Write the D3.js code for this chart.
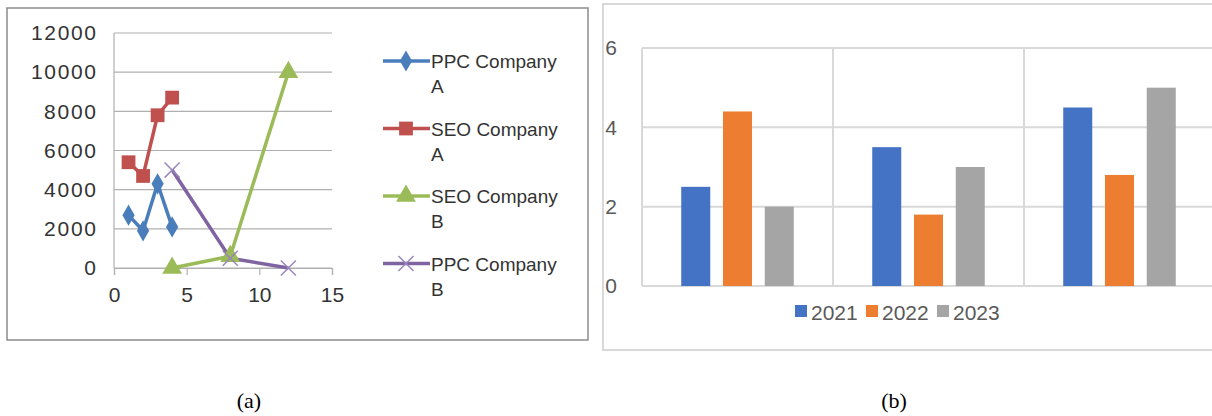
<!DOCTYPE html>
<html>
<head>
    <meta charset="utf-8">
    <style>
        body { margin: 0; background: #fff; }
        text { font-family: "Liberation Sans", Arial, sans-serif; }
        .grid line { stroke: #b0b0b0; stroke-width: 1.2px; }
        .gridb line { stroke: #d9d9d9; stroke-width: 2px; }
        .lineA { fill: none; stroke-width: 3.5px; stroke-linejoin: round; }
    </style>
    <script src="https://d3js.org/d3.v7.min.js"></script>
</head>
<body>
    <div id="chart"></div>
    <script>
        // panel (a) data
        var seriesNames = ["PPC Company A", "SEO Company A", "SEO Company B", "PPC Company B"];
        var ppcA = [{ x: 1, y: 2700 }, { x: 2, y: 1900 }, { x: 3, y: 4300 }, { x: 4, y: 2100 }];
        var seoA = [{ x: 1, y: 5400 }, { x: 2, y: 4700 }, { x: 3, y: 7800 }, { x: 4, y: 8700 }];
        var seoB = [{ x: 4, y: 0 }, { x: 8, y: 600 }, { x: 12, y: 10000 }];
        var ppcB = [{ x: 4, y: 5000 }, { x: 8, y: 500 }, { x: 12, y: 0 }];
        var xTicksA = [0, 5, 10, 15];
        var yTicksA = [0, 2000, 4000, 6000, 8000, 10000, 12000];

        // panel (b) data
        var groups = ["g1", "g2", "g3"];
        var years = ["2021", "2022", "2023"];
        var v2021 = [2.5, 3.5, 4.5];
        var v2022 = [4.4, 1.8, 2.8];
        var v2023 = [2, 3, 5];
        var yTicksB = [0, 2, 4, 6];

        var svg = d3.select("#chart").append("svg")
            .attr("width", 1212)
            .attr("height", 416);

        // ---------- panel (a) ----------
        svg.append("rect")
            .attr("x", 7).attr("y", 8)
            .attr("width", 581).attr("height", 332)
            .attr("fill", "#fff")
            .attr("stroke", "#8c8c8c")
            .attr("stroke-width", 1.5);

        var xa = d3.scaleLinear().domain([0, 15]).range([114, 332]);
        var ya = d3.scaleLinear().domain([0, 12000]).range([268, 33]);

        var ga = svg.append("g");

        ga.append("g")
            .attr("class", "grid")
            .selectAll("line")
            .data(yTicksA)
            .enter().append("line")
            .attr("x1", xa(0)).attr("x2", xa(15))
            .attr("y1", function(d) { return ya(d); })
            .attr("y2", function(d) { return ya(d); });

        ga.append("line")
            .attr("x1", xa(0)).attr("x2", xa(0))
            .attr("y1", ya(12000)).attr("y2", ya(0))
            .attr("stroke", "#b0b0b0").attr("stroke-width", 1.2);

        var xAxisA = d3.axisBottom(xa).tickValues(xTicksA).tickFormat(d3.format("d")).tickSize(7).tickPadding(12);
        var gx = ga.append("g")
            .attr("transform", "translate(0," + ya(0) + ")")
            .call(xAxisA);
        gx.select(".domain").attr("stroke", "#b0b0b0").attr("stroke-width", 1.2);
        gx.selectAll(".tick line").attr("stroke", "#b0b0b0").attr("stroke-width", 1.2);
        gx.selectAll("text").attr("font-size", 21).attr("fill", "#333");

        var yAxisA = d3.axisLeft(ya).tickValues(yTicksA).tickFormat(d3.format("d")).tickSize(0).tickPadding(18);
        var gy = ga.append("g")
            .attr("transform", "translate(" + xa(0) + ",0)")
            .call(yAxisA);
        gy.select(".domain").remove();
        gy.selectAll("text").attr("font-size", 21).attr("fill", "#333")
            .attr("textLength", function(d) { return String(d).length * 13; });

        var colorsA = ["#4a7ebb", "#c0504d", "#9bbb59", "#8064a2"];
        var shapes = [d3.symbolDiamond, d3.symbolSquare, d3.symbolTriangle, d3.symbolTimes];
        var sizes = [130, 190, 170, 150];
        var allSeries = [ppcA, seoA, seoB, ppcB];

        var lineA = d3.line()
            .x(function(d) { return xa(d.x); })
            .y(function(d) { return ya(d.y); });

        allSeries.forEach(function(s, i) {
            ga.append("path")
                .datum(s)
                .attr("class", "lineA")
                .attr("stroke", colorsA[i])
                .attr("d", lineA);
        });
        allSeries.forEach(function(s, i) {
            var sym = d3.symbol().type(shapes[i]).size(sizes[i]);
            ga.selectAll(".m" + i)
                .data(s)
                .enter().append("path")
                .attr("class", "m" + i)
                .attr("transform", function(d) { return "translate(" + xa(d.x) + "," + ya(d.y) + ")"; })
                .attr("d", sym)
                .attr("fill", i == 3 ? "none" : colorsA[i])
                .attr("stroke", i == 3 ? "#9a86bb" : "none")
                .attr("stroke-width", 1.5);
        });

        // legend (a)
        var legA = ga.append("g");
        seriesNames.forEach(function(name, i) {
            var yy = 61 + i * 67.5;
            legA.append("line")
                .attr("x1", 383).attr("x2", 430)
                .attr("y1", yy).attr("y2", yy)
                .attr("stroke", colorsA[i]).attr("stroke-width", 3.5);
            legA.append("path")
                .attr("transform", "translate(406," + yy + ")")
                .attr("d", d3.symbol().type(shapes[i]).size(sizes[i])())
                .attr("fill", i == 3 ? "none" : colorsA[i])
                .attr("stroke", i == 3 ? "#9a86bb" : "none")
                .attr("stroke-width", 1.5);
            var parts = name.split(" ");
            legA.append("text")
                .attr("x", 431).attr("y", yy + 7)
                .attr("font-size", 19).attr("fill", "#333")
                .text(parts[0] + " " + parts[1]);
            legA.append("text")
                .attr("x", 431).attr("y", yy + 32)
                .attr("font-size", 19).attr("fill", "#333")
                .text(parts[2]);
        });

        // ---------- panel (b) ----------
        svg.append("rect")
            .attr("x", 603).attr("y", 4)
            .attr("width", 620).attr("height", 346)
            .attr("fill", "#fff")
            .attr("stroke", "#d9d9d9")
            .attr("stroke-width", 2);

        var x0 = d3.scaleBand().domain(groups).range([642, 1215]).paddingInner(0).paddingOuter(0);
        var x1 = d3.scaleBand().domain(years).range([0, x0.bandwidth()]).paddingInner(0.305).paddingOuter(0.94);
        var yb = d3.scaleLinear().domain([0, 6]).range([286, 48]);

        var gb = svg.append("g");
        gb.append("g")
            .attr("class", "gridb")
            .selectAll("line")
            .data(yTicksB)
            .enter().append("line")
            .attr("x1", 642).attr("x2", 1215)
            .attr("y1", function(d) { return yb(d); })
            .attr("y2", function(d) { return yb(d); });
        gb.append("g")
            .attr("class", "gridb")
            .selectAll("line")
            .data(groups)
            .enter().append("line")
            .attr("x1", function(d) { return x0(d); })
            .attr("x2", function(d) { return x0(d); })
            .attr("y1", yb(6)).attr("y2", yb(0));

        var yAxisB = d3.axisLeft(yb).tickValues(yTicksB).tickFormat(d3.format("d")).tickSize(0).tickPadding(25);
        var gyb = gb.append("g")
            .attr("transform", "translate(642,0)")
            .call(yAxisB);
        gyb.select(".domain").remove();
        gyb.selectAll("text").attr("font-size", 21).attr("fill", "#595959");

        var colorsB = ["#4472c4", "#ed7d31", "#a5a5a5"];
        var valsB = [v2021, v2022, v2023];
        years.forEach(function(yr, j) {
            gb.selectAll(".bar" + j)
                .data(groups)
                .enter().append("rect")
                .attr("class", "bar" + j)
                .attr("x", function(d) { return x0(d) + x1(yr); })
                .attr("width", x1.bandwidth())
                .attr("y", function(d, i) { return yb(valsB[j][i]); })
                .attr("height", function(d, i) { return yb(0) - yb(valsB[j][i]); })
                .attr("fill", colorsB[j]);
        });

        // legend (b)
        var legX = [795, 866, 937];
        years.forEach(function(yr, j) {
            gb.append("rect")
                .attr("x", legX[j]).attr("y", 305)
                .attr("width", 12).attr("height", 12)
                .attr("fill", colorsB[j]);
            gb.append("text")
                .attr("x", legX[j] + 16).attr("y", 320)
                .attr("font-size", 21).attr("fill", "#595959")
                .text(yr);
        });

        // captions
        svg.append("text")
            .attr("x", 249).attr("y", 408)
            .attr("text-anchor", "middle")
            .style("font-family", "'Liberation Serif', serif")
            .attr("font-size", 22)
            .text("(a)");
        svg.append("text")
            .attr("x", 894).attr("y", 408)
            .attr("text-anchor", "middle")
            .style("font-family", "'Liberation Serif', serif")
            .attr("font-size", 22)
            .text("(b)");
    </script>
</body>
</html>
